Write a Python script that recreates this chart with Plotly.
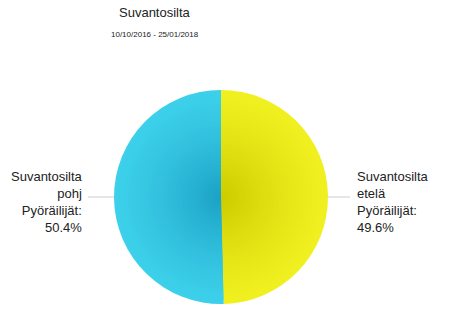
import plotly.graph_objects as go

# Data
title = "Suvantosilta"
subtitle = "10/10/2016 - 25/01/2018"
labels = ["Suvantosilta etelä Pyöräilijät", "Suvantosilta pohj Pyöräilijät"]
values = [49.6, 50.4]

edge_colors = [(240, 240, 32), (60, 208, 234)]
center_colors = [(204, 204, 0), (28, 162, 198)]

W, H = 462, 324
cx, cy, R = 221, 197, 107

fig = go.Figure()
n = 30
for i in range(n):
    t = i / (n - 1)  # 0 outer -> 1 inner
    r = R * (1 - i / n)
    cols = []
    for e, c in zip(edge_colors, center_colors):
        k = t ** 1.3
        rgb = tuple(int(round(e[j] + (c[j] - e[j]) * k)) for j in range(3))
        cols.append("rgb(%d,%d,%d)" % rgb)
    fig.add_trace(go.Pie(
        labels=labels, values=values, sort=False, direction="clockwise", rotation=0,
        marker=dict(colors=cols, line=dict(width=0)),
        textinfo="none", hoverinfo="label+percent", showlegend=False,
        domain=dict(x=[(cx - r) / W, (cx + r) / W], y=[(H - cy - r) / H, (H - cy + r) / H]),
    ))

def lab(name, v):
    parts = name.split(" ")
    return "<br>".join([parts[0], parts[1], parts[2] + ":", f"{v:.1f}%"])

fig.add_annotation(x=355 / W, y=1 - 202 / H, xref="paper", yref="paper",
                   text=lab(labels[0], values[0]), showarrow=False, xanchor="left",
                   yanchor="middle", align="left",
                   font=dict(family="Arial", size=13, color="#222"))
fig.add_annotation(x=85 / W, y=1 - 202 / H, xref="paper", yref="paper",
                   text=lab(labels[1], values[1]), showarrow=False, xanchor="right",
                   yanchor="middle", align="right",
                   font=dict(family="Arial", size=13, color="#222"))

fig.add_shape(type="line", xref="paper", yref="paper", x0=88 / W, x1=(cx - R) / W,
              y0=1 - cy / H, y1=1 - cy / H, line=dict(color="#cccccc", width=1))
fig.add_shape(type="line", xref="paper", yref="paper", x0=(cx + R) / W, x1=350 / W,
              y0=1 - cy / H, y1=1 - cy / H, line=dict(color="#cccccc", width=1))

fig.add_annotation(x=155 / W, y=1 - 13 / H, xref="paper", yref="paper", text=title,
                   showarrow=False, yanchor="middle",
                   font=dict(family="Arial", size=13, color="#222"))
fig.add_annotation(x=155 / W, y=1 - 34 / H, xref="paper", yref="paper", text=subtitle,
                   showarrow=False, yanchor="middle",
                   font=dict(family="Arial", size=8, color="#222"))

fig.update_layout(width=W, height=H, margin=dict(l=0, r=0, t=0, b=0),
                  paper_bgcolor="white", plot_bgcolor="white")
fig.write_html("out.html")
